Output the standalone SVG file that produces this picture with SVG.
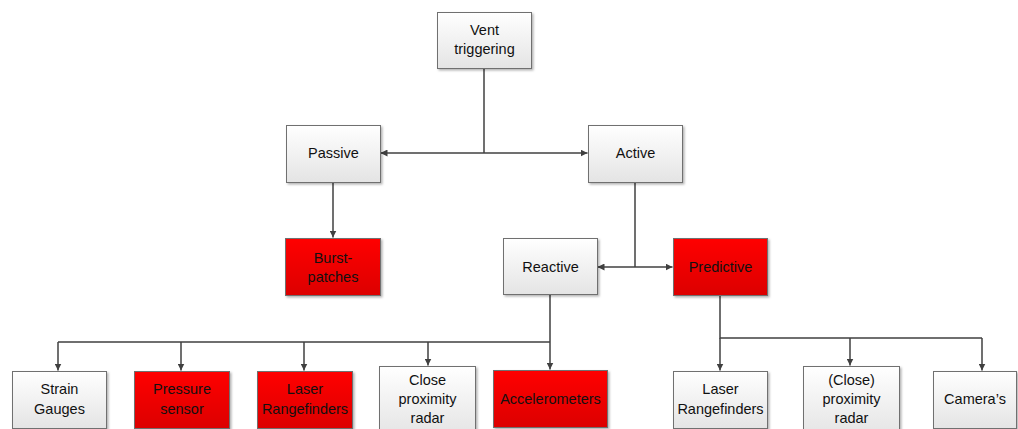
<svg xmlns="http://www.w3.org/2000/svg" width="1018" height="429" viewBox="0 0 1018 429">
  <defs>
    <linearGradient id="gWhite" x1="0" y1="0" x2="0" y2="1">
      <stop offset="0" stop-color="#ffffff"/>
      <stop offset="1" stop-color="#e4e4e4"/>
    </linearGradient>
    <linearGradient id="gRed" x1="0" y1="0" x2="0" y2="1">
      <stop offset="0" stop-color="#ff0000"/>
      <stop offset="1" stop-color="#dc0000"/>
    </linearGradient>
    <filter id="shadow" x="-10%" y="-10%" width="130%" height="130%">
      <feDropShadow dx="1.5" dy="1.5" stdDeviation="1" flood-color="#000" flood-opacity="0.3"/>
    </filter>
    <marker id="arrow" viewBox="0 0 10 10" refX="10" refY="5" markerWidth="7" markerHeight="7" markerUnits="userSpaceOnUse" orient="auto">
      <path d="M0,0 L10,5 L0,10 Z" fill="#404040"/>
    </marker>
  </defs>
  <style>
    .box { stroke: #6f6f6f; stroke-width: 1; filter: url(#shadow); }
    .white { fill: url(#gWhite); }
    .red { fill: url(#gRed); }
    .label { font-family: "Liberation Sans", Arial, sans-serif; font-size: 14.5px; fill: #111; text-anchor: middle; dominant-baseline: central; }
    .wire { fill: none; stroke: #404040; stroke-width: 1.5; }
    .arr { marker-end: url(#arrow); }
  </style>

  <rect width="1018" height="429" fill="#ffffff"/>

  <!-- connectors -->
  <g id="connectors">
    <path class="wire" d="M484,68 V153"/>
    <path class="wire arr" d="M484,153 H380.5"/>
    <path class="wire arr" d="M484,153 H587.5"/>
    <path class="wire arr" d="M333,182 V237.5"/>
    <path class="wire" d="M635,182 V267"/>
    <path class="wire arr" d="M635,267 H597.5"/>
    <path class="wire arr" d="M635,267 H672.5"/>
    <path class="wire" d="M550,294 V342 M58,342 H550"/>
    <path class="wire arr" d="M58,342 V370.5"/>
    <path class="wire arr" d="M181,342 V370.5"/>
    <path class="wire arr" d="M304,342 V370.5"/>
    <path class="wire arr" d="M428,342 V365.5"/>
    <path class="wire arr" d="M550,342 V369.5"/>
    <path class="wire" d="M720,295 V338 H982"/>
    <path class="wire arr" d="M720,338 V370.5"/>
    <path class="wire arr" d="M850,338 V365.5"/>
    <path class="wire arr" d="M982,338 V370.5"/>
  </g>

  <g id="vent">
    <rect class="box white" x="437.5" y="12.5" width="94" height="56"/>
    <text class="label" x="484.5" y="30">Vent</text>
    <text class="label" x="484.5" y="49">triggering</text>
  </g>
  <g id="passive">
    <rect class="box white" x="286.5" y="125.5" width="94" height="57"/>
    <text class="label" x="333.5" y="153">Passive</text>
  </g>
  <g id="active">
    <rect class="box white" x="588.5" y="125.5" width="94" height="57"/>
    <text class="label" x="635.5" y="153">Active</text>
  </g>
  <g id="burst-patches">
    <rect class="box red" x="285.5" y="238.5" width="95" height="57"/>
    <text class="label" x="333" y="258">Burst-</text>
    <text class="label" x="333" y="277">patches</text>
  </g>
  <g id="reactive">
    <rect class="box white" x="503.5" y="238.5" width="94" height="56"/>
    <text class="label" x="550.5" y="267">Reactive</text>
  </g>
  <g id="predictive">
    <rect class="box red" x="673.5" y="238.5" width="94" height="57"/>
    <text class="label" x="720.5" y="267">Predictive</text>
  </g>
  <g id="strain-gauges">
    <rect class="box white" x="12.5" y="371.5" width="94" height="57"/>
    <text class="label" x="59.5" y="389">Strain</text>
    <text class="label" x="59.5" y="409">Gauges</text>
  </g>
  <g id="pressure-sensor">
    <rect class="box red" x="134.5" y="371.5" width="95" height="57"/>
    <text class="label" x="182" y="389">Pressure</text>
    <text class="label" x="182" y="409">sensor</text>
  </g>
  <g id="laser-rangefinders-reactive">
    <rect class="box red" x="257.5" y="371.5" width="95" height="57"/>
    <text class="label" x="305" y="389">Laser</text>
    <text class="label" x="305" y="409">Rangefinders</text>
  </g>
  <g id="close-proximity-radar">
    <rect class="box white" x="379.5" y="366.5" width="96" height="70"/>
    <text class="label" x="427.5" y="380">Close</text>
    <text class="label" x="427.5" y="399">proximity</text>
    <text class="label" x="427.5" y="418">radar</text>
  </g>
  <g id="accelerometers">
    <rect class="box red" x="493.5" y="370.5" width="114" height="57"/>
    <text class="label" x="550.5" y="399">Accelerometers</text>
  </g>
  <g id="laser-rangefinders-predictive">
    <rect class="box white" x="673.5" y="371.5" width="94" height="57"/>
    <text class="label" x="720.5" y="389">Laser</text>
    <text class="label" x="720.5" y="409">Rangefinders</text>
  </g>
  <g id="proximity-radar">
    <rect class="box white" x="803.5" y="366.5" width="96" height="70"/>
    <text class="label" x="851.5" y="380">(Close)</text>
    <text class="label" x="851.5" y="399">proximity</text>
    <text class="label" x="851.5" y="418">radar</text>
  </g>
  <g id="cameras">
    <rect class="box white" x="933.5" y="371.5" width="83" height="57"/>
    <text class="label" x="975" y="399">Camera’s</text>
  </g>
</svg>
